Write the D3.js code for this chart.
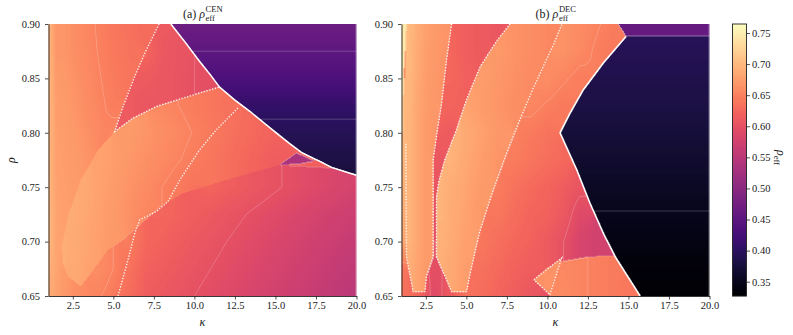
<!DOCTYPE html>
<html>
<head>
<meta charset="utf-8">
<script src="https://cdn.jsdelivr.net/npm/d3@7"></script>
<style>
body { margin: 0; background: #fff; }
svg text { font-family: "Liberation Serif", "DejaVu Serif", serif !important; fill: #1a1a1a; }
</style>
</head>
<body>
<svg id="fig" width="793" height="335"></svg>
<script>
// grid nodes of the sampled rho_eff field
const kappaNodes = [1, 1.5, 2, 2.5, 3, 3.5, 4, 4.5, 5, 6, 7, 8, 9, 10, 11, 12, 13, 14, 15, 16, 17, 18, 19, 20];
const rhoNodes = [0.65, 0.675, 0.70, 0.725, 0.75, 0.775, 0.80, 0.825, 0.85, 0.875, 0.90];

// rows from rho = 0.90 (top) down to rho = 0.65
const gridCEN = [
  [.70,.668,.668,.662,.657,.653,.649,.645,.64,.634,.628,.612,.468,.468,.468,.468,.468,.468,.468,.468,.468,.468,.468,.468],
  [.70,.668,.668,.662,.658,.654,.65,.646,.642,.636,.624,.61,.605,.45,.45,.45,.45,.45,.45,.45,.45,.45,.45,.45],
  [.70,.672,.67,.666,.661,.656,.652,.648,.644,.637,.612,.608,.605,.60,.597,.432,.432,.432,.432,.432,.432,.432,.432,.432],
  [.70,.675,.673,.668,.663,.658,.654,.65,.646,.612,.608,.655,.65,.645,.64,.635,.407,.407,.407,.407,.407,.407,.407,.407],
  [.70,.676,.674,.671,.667,.662,.657,.652,.655,.672,.667,.661,.655,.649,.643,.636,.63,.625,.62,.393,.393,.393,.393,.393],
  [.70,.677,.675,.673,.67,.665,.68,.678,.675,.669,.663,.657,.651,.645,.639,.633,.626,.62,.615,.535,.535,.382,.382,.382],
  [.70,.678,.676,.674,.686,.683,.68,.677,.673,.666,.658,.65,.643,.636,.622,.617,.612,.607,.602,.597,.592,.587,.582,.578],
  [.70,.68,.677,.688,.685,.682,.679,.675,.672,.663,.653,.625,.62,.616,.611,.606,.601,.596,.591,.586,.581,.576,.572,.568],
  [.70,.68,.69,.687,.684,.681,.678,.674,.67,.645,.625,.62,.615,.61,.605,.60,.595,.59,.585,.58,.575,.57,.566,.562],
  [.695,.68,.672,.686,.683,.679,.66,.655,.65,.635,.62,.615,.61,.605,.60,.595,.59,.585,.58,.575,.57,.565,.56,.556],
  [.69,.678,.67,.664,.66,.655,.652,.648,.643,.63,.615,.61,.605,.60,.595,.59,.585,.58,.575,.57,.565,.56,.555,.55]
];

const gridDEC = [
  [.745,.70,.688,.678,.673,.668,.665,.62,.616,.612,.608,.665,.66,.655,.665,.658,.652,.645,.46,.46,.46,.46,.46,.46],
  [.745,.70,.686,.676,.671,.667,.625,.62,.616,.612,.67,.665,.66,.655,.665,.656,.648,.642,.392,.392,.392,.392,.392,.392],
  [.74,.698,.685,.675,.67,.666,.625,.622,.618,.675,.668,.663,.657,.66,.652,.645,.386,.386,.386,.386,.386,.386,.386,.386],
  [.735,.697,.683,.674,.669,.625,.622,.62,.68,.673,.667,.661,.655,.648,.642,.38,.38,.38,.38,.38,.38,.38,.38,.38],
  [.72,.695,.682,.673,.668,.615,.612,.692,.686,.678,.669,.65,.643,.636,.373,.373,.373,.373,.373,.373,.373,.373,.373,.373],
  [.70,.695,.682,.673,.61,.608,.695,.689,.684,.675,.666,.645,.638,.632,.626,.365,.365,.365,.365,.365,.365,.365,.365,.365],
  [.695,.695,.682,.673,.605,.695,.689,.686,.681,.672,.645,.635,.628,.622,.615,.605,.357,.357,.357,.357,.357,.357,.357,.357],
  [.69,.695,.682,.673,.60,.695,.688,.684,.679,.67,.64,.63,.622,.62,.61,.59,.349,.349,.349,.349,.349,.349,.349,.349],
  [.685,.695,.682,.673,.60,.693,.688,.682,.677,.64,.632,.625,.62,.612,.60,.582,.575,.342,.342,.342,.342,.342,.342,.342],
  [.64,.69,.68,.672,.598,.69,.685,.68,.675,.635,.627,.62,.615,.655,.655,.652,.648,.644,.335,.335,.335,.335,.335,.335],
  [.635,.63,.625,.612,.59,.60,.612,.625,.635,.63,.622,.615,.608,.60,.658,.652,.648,.644,.64,.328,.328,.328,.328,.328]
];

// rho_eff inside the dark (infeasible) regime, at rhoNodes
const darkCEN = [.33, .338, .347, .357, .368, .382, .393, .407, .432, .45, .468];
const darkDEC = [.328, .335, .342, .349, .357, .365, .373, .38, .386, .392, .397];

// regime boundaries [kappa, rho]
const solidCEN = [[8.55,0.9],[9.5,0.882],[10.3,0.866],[11.0,0.853],[11.55,0.842],[12.5,0.830],[13.4,0.820],
  [14.3,0.809],[15.05,0.800],[15.8,0.791],[16.6,0.782],[17.7,0.774],[18.5,0.768],[20,0.761]];
const dotsCEN = [
  [[7.82,0.9],[7.04,0.8764],[6.32,0.8518],[5.6,0.8242],[5.09,0.8012],[6.21,0.8135],[7.65,0.8242],
   [9.29,0.8319],[10.32,0.8365],[11.55,0.842]],
  [[12.68,0.8227],[11.35,0.8027],[10.32,0.7843],[9.09,0.7565],[8.37,0.7368],[7.65,0.7276],[6.63,0.72],
   [6.32,0.7077],[5.9,0.6831],[5.29,0.65]]
];
const lensCEN = [[5.09,0.8012],[6.21,0.8135],[7.65,0.8242],[9.29,0.8319],[10.32,0.8365],[11.55,0.842],
  [12.5,0.835],[14,0.82],[16,0.80],[18,0.785],[19.2,0.767],[15.25,0.7705],[12.5,0.759],[10.3,0.749],
  [9.29,0.7445],[8.0,0.733],[5.68,0.703],[4.65,0.692],[3.63,0.671],[3.0,0.659],[2.19,0.668],[1.88,0.68],
  [1.82,0.695],[2.19,0.723],[3.0,0.757],[4.04,0.784]];
const triCEN = [[15.25,0.7705],[16.3,0.7815],[17.4,0.774],[16.4,0.7712]];
const darkCloseCEN = [[20.5,0.761],[20.5,0.95],[8.5,0.95]];
const topCloseCEN = [[12.5,0.842],[12.5,0.95],[7.8,0.95]];

const solidDEC = [[14.85,0.8886],[13.45,0.8641],[12.22,0.8396],[11.4,0.8181],[10.78,0.80],[11.81,0.766],
  [12.63,0.7353],[13.45,0.7077],[14.18,0.6862],[15.72,0.65]];
const dotsDEC = [
  [[1.27,0.79],[1.31,0.686],[1.62,0.662],[1.72,0.654],[2.44,0.654],[2.54,0.668],[2.95,0.686],[2.95,0.775],
   [3.16,0.797],[3.47,0.827],[3.78,0.867],[4.09,0.9]],
  [[7.7,0.9],[6.9,0.885],[5.86,0.861],[5.0,0.83],[4.4,0.803],[3.67,0.775],[3.3,0.755],[3.16,0.741],
   [3.16,0.686],[4.09,0.654],[5.01,0.654],[5.25,0.672],[5.8,0.708],[6.6,0.745],[7.5,0.782],[8.3,0.812],
   [9.1,0.84],[9.9,0.866],[10.4,0.882],[10.9,0.9]],
  [[9.17,0.665],[10.88,0.685],[10.15,0.651],[9.17,0.665]]
];
const lensDEC = [[9.17,0.665],[10.0,0.676],[11.0,0.682],[12.5,0.686],[14.18,0.687],[15.72,0.65],[15.8,0.64],
  [10.3,0.64],[10.15,0.651]];
const bandDEC = [[14.3,0.92],[14.38,0.9],[14.85,0.8886],[20.5,0.8886],[20.5,0.92]];
const stripDEC = [[0.9,0.92],[1.32,0.92],[1.3,0.9],[1.12,0.85],[1.03,0.80],[0.9,0.77]];
const darkCloseDEC = [[15.8,0.64],[20.5,0.64],[20.5,0.8886]];
const leftCloseDEC = [[4.15,0.92],[1.27,0.92]];
const midCloseDEC = [[10.95,0.92],[7.75,0.92]];

const xTicks = [2.5, 5, 7.5, 10, 12.5, 15, 17.5, 20];
const yTicks = [0.65, 0.70, 0.75, 0.80, 0.85, 0.90];
const cbTicks = [0.35, 0.40, 0.45, 0.50, 0.55, 0.60, 0.65, 0.70, 0.75];
const levels = [0.35, 0.40, 0.45, 0.50, 0.55, 0.60, 0.65, 0.70, 0.75];
const cbDomain = [0.327, 0.7645];

const W = 308, H = 272, TOP = 24;
const FONT = '"Liberation Serif", "DejaVu Serif", serif';
const svg = d3.select("#fig");
const x = d3.scaleLinear().domain([1, 20]).range([0, W]);
const y = d3.scaleLinear().domain([0.65, 0.9]).range([H, 0]);
const color = d3.scaleSequential(d3.interpolateMagma).domain(cbDomain);
const lut = d3.range(1024).map(i => d3.rgb(d3.interpolateMagma(i / 1023)));

function buildField(grid, regions) {
  const nK = kappaNodes.length, nR = rhoNodes.length;
  const V = (i, j) => grid[nR - 1 - j][i];
  const regionOf = (k, r) => {
    for (let q = 0; q < regions.length; q++) if (d3.polygonContains(regions[q].poly, [k, r])) return q;
    return -1;
  };
  const nodeReg = rhoNodes.map(r => kappaNodes.map(k => regionOf(k, r)));
  return function(k, r) {
    const q = regionOf(k, r);
    const i = Math.max(0, Math.min(nK - 2, d3.bisectRight(kappaNodes, k) - 1));
    const j = Math.max(0, Math.min(nR - 2, d3.bisectRight(rhoNodes, r) - 1));
    const tx = (k - kappaNodes[i]) / (kappaNodes[i + 1] - kappaNodes[i]);
    const ty = (r - rhoNodes[j]) / (rhoNodes[j + 1] - rhoNodes[j]);
    if (q >= 0 && regions[q].fill != null) return regions[q].fill;
    if (q >= 0 && regions[q].profile) {
      const p = regions[q].profile;
      return p[j] + (p[j + 1] - p[j]) * ty;
    }
    let s = 0, ws = 0;
    for (const [a, b] of [[0,0],[1,0],[0,1],[1,1]]) {
      if (nodeReg[j + b][i + a] !== q) continue;
      const w = (a ? tx : 1 - tx) * (b ? ty : 1 - ty) + 1e-9;
      s += w * V(i + a, j + b); ws += w;
    }
    if (ws > 0) return s / ws;
    // no node of the same regime around: look further out
    for (let rad = 2; rad <= 4; rad++) {
      s = 0; ws = 0;
      for (let jj = j - rad + 1; jj <= j + rad; jj++) for (let ii = i - rad + 1; ii <= i + rad; ii++) {
        if (ii < 0 || jj < 0 || ii >= nK || jj >= nR || nodeReg[jj][ii] !== q) continue;
        const dk = kappaNodes[ii] - k, dr = (rhoNodes[jj] - r) / 0.025;
        const w = 1 / (dk * dk + dr * dr + 1e-6);
        s += w * V(ii, jj); ws += w;
      }
      if (ws > 0) return s / ws;
    }
    return V(i, j);
  };
}

const line = d3.line().x(d => x(d[0])).y(d => y(d[1]));

function drawPanel(opt) {
  const g = svg.append("g").attr("transform", `translate(${opt.left},${TOP})`);
  const field = buildField(opt.grid, opt.regions);
  const vals = new Float32Array(W * H);
  const canvas = document.createElement("canvas");
  canvas.width = W; canvas.height = H;
  const ctx = canvas.getContext("2d");
  const img = ctx.createImageData(W, H);
  for (let py = 0; py < H; py++) {
    const r = y.invert(py + 0.5);
    for (let px = 0; px < W; px++) {
      const v = field(x.invert(px + 0.5), r);
      vals[py * W + px] = v;
      const t = Math.max(0, Math.min(1, (v - cbDomain[0]) / (cbDomain[1] - cbDomain[0])));
      const c = lut[Math.round(t * 1023)];
      const o = 4 * (py * W + px);
      img.data[o] = c.r; img.data[o + 1] = c.g; img.data[o + 2] = c.b; img.data[o + 3] = 255;
    }
  }
  ctx.putImageData(img, 0, 0);
  g.append("image").attr("width", W).attr("height", H)
    .attr("preserveAspectRatio", "none").attr("href", canvas.toDataURL());

  const clipId = "clip-" + opt.id;
  g.append("clipPath").attr("id", clipId).append("rect").attr("width", W).attr("height", H);

  // thin iso-lines of the field
  const P = 2, Wp = W + 2 * P, Hp = H + 2 * P;
  const pv = new Float64Array(Wp * Hp);
  for (let yy = 0; yy < Hp; yy++) for (let xx = 0; xx < Wp; xx++) {
    const sx = Math.max(0, Math.min(W - 1, xx - P)), sy = Math.max(0, Math.min(H - 1, yy - P));
    pv[yy * Wp + xx] = vals[sy * W + sx];
  }
  const cs = d3.contours().size([Wp, Hp]).thresholds(levels)(pv);
  g.append("g").attr("clip-path", `url(#${clipId})`)
    .append("g").attr("transform", `translate(${-P},${-P})`)
    .selectAll("path").data(cs).join("path")
    .attr("d", d3.geoPath())
    .attr("fill", "none").attr("stroke", "#fff").attr("stroke-opacity", 0.3).attr("stroke-width", 0.7);

  // faint edge on the right side of the image
  g.append("line").attr("x1", x(20) - 0.5).attr("x2", x(20) - 0.5).attr("y1", 0).attr("y2", H)
    .attr("stroke", "#fff").attr("stroke-opacity", 0.35).attr("stroke-width", 1);

  const lines = g.append("g").attr("clip-path", `url(#${clipId})`);
  lines.append("path").attr("d", line(opt.solid))
    .attr("fill", "none").attr("stroke", "#fff").attr("stroke-width", 1.5);
  lines.selectAll(".dot").data(opt.dots).join("path")
    .attr("d", d => line(d))
    .attr("fill", "none").attr("stroke", "#fff").attr("stroke-opacity", 0.9)
    .attr("stroke-width", 1.4).attr("stroke-dasharray", "1.3 1.6");

  const xa = g.append("g").attr("transform", `translate(0,${H})`)
    .call(d3.axisBottom(x).tickValues(xTicks).tickFormat(d3.format(".1f")).tickSize(3.5).tickSizeOuter(0).tickPadding(2.5));
  const ya = g.append("g")
    .call(d3.axisLeft(y).tickValues(yTicks).tickFormat(d3.format(".2f")).tickSize(3.5).tickSizeOuter(0).tickPadding(5));
  [xa, ya].forEach(a => {
    a.attr("font-family", FONT);
    a.selectAll("text").style("font-family", FONT).attr("font-size", 10.5).attr("fill", "#1a1a1a");
    a.selectAll("line").attr("stroke", "#222").attr("stroke-width", 0.8);
    a.select(".domain").attr("stroke", "#222").attr("stroke-width", 0.9);
  });

  g.append("text").attr("x", W / 2).attr("y", H + 30).attr("text-anchor", "middle")
    .style("font-family", FONT).attr("font-size", 12).attr("font-style", "italic").text("κ");

  // title
  const tt = g.append("text").attr("y", -6).attr("font-size", 12).style("font-family", FONT);
  tt.append("tspan").text(opt.label + " ");
  tt.append("tspan").attr("font-style", "italic").text("ρ");
  const w = tt.node().getComputedTextLength();
  const sub = g.append("text").attr("y", -3).attr("font-size", 8.5).style("font-family", FONT).text("eff");
  const sup = g.append("text").attr("y", -12).attr("font-size", 8.5).style("font-family", FONT).text(opt.sup);
  const ws = Math.max(sub.node().getComputedTextLength(), sup.node().getComputedTextLength());
  const x0 = W / 2 - (w + ws) / 2;
  tt.attr("x", x0); sub.attr("x", x0 + w + 0.5); sup.attr("x", x0 + w + 0.5);
  return g;
}

drawPanel({
  id: "cen", left: 48.5, grid: gridCEN, label: "(a)", sup: "CEN",
  solid: solidCEN, dots: dotsCEN,
  regions: [
    { poly: solidCEN.concat(darkCloseCEN), profile: darkCEN },
    { poly: triCEN, fill: 0.535 },
    { poly: dotsCEN[0].concat(topCloseCEN) },
    { poly: lensCEN }
  ]
});

drawPanel({
  id: "dec", left: 401.5, grid: gridDEC, label: "(b)", sup: "DEC",
  solid: solidDEC, dots: dotsDEC,
  regions: [
    { poly: bandDEC, fill: 0.46 },
    { poly: solidDEC.concat(darkCloseDEC), profile: darkDEC },
    { poly: stripDEC, fill: 0.745 },
    { poly: dotsDEC[2], fill: 0.665 },
    { poly: lensDEC },
    { poly: dotsDEC[0].concat(leftCloseDEC) },
    { poly: dotsDEC[1].concat(midCloseDEC) }
  ]
});

// y label
svg.append("text").attr("transform", `translate(15,${TOP + H / 2}) rotate(-90)`)
  .attr("text-anchor", "middle").style("font-family", FONT).attr("font-size", 12)
  .attr("font-style", "italic").text("ρ");

// colour bar
const cbX = 732.5, cbW = 14;
const yc = d3.scaleLinear().domain(cbDomain).range([H, 0]);
const cb = svg.append("g").attr("transform", `translate(${cbX},${TOP})`);
cb.selectAll("rect.s").data(d3.range(H)).join("rect")
  .attr("x", 0).attr("y", d => d).attr("width", cbW).attr("height", 1.2)
  .attr("fill", d => color(yc.invert(d + 0.5)));
cb.append("rect").attr("width", cbW).attr("height", H)
  .attr("fill", "none").attr("stroke", "#222").attr("stroke-width", 0.9);
const ca = cb.append("g").attr("transform", `translate(${cbW},0)`)
  .call(d3.axisRight(yc).tickValues(cbTicks).tickFormat(d3.format(".2f")).tickSize(3.5).tickSizeOuter(0).tickPadding(2));
ca.select(".domain").remove();
ca.selectAll("text").style("font-family", FONT).attr("font-size", 10.5).attr("fill", "#1a1a1a");
ca.selectAll("line").attr("stroke", "#222").attr("stroke-width", 0.8);

const cl = svg.append("text").attr("transform", `translate(777,${TOP + H / 2 - 10}) rotate(90)`)
  .style("font-family", FONT).attr("font-size", 12);
cl.append("tspan").attr("font-style", "italic").text("ρ");
cl.append("tspan").attr("font-size", 8.5).attr("dy", 3).text("eff");
</script>
</body>
</html>
